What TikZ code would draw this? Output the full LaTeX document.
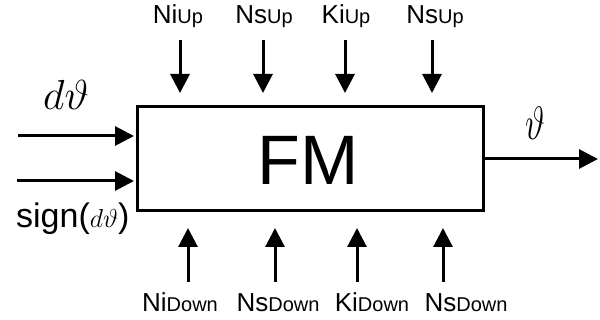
\RequirePackage{fix-cm}
\documentclass[tikz,border=0pt]{standalone}
\usepackage{graphicx}
\usepackage{fontspec}
\setmainfont{Liberation Sans}
\usetikzlibrary{arrows.meta}
\tikzset{
  arr/.style={line width=3pt, -{Triangle[length=19pt,width=19pt]}},
  box/.style={draw, line width=3pt, minimum width=346pt, minimum height=104pt, inner sep=0pt},
  lbl/.style={inner sep=0pt, anchor=base},
}
\newcommand{\lgtxt}[1]{{\fontsize{26}{26}\selectfont #1}}
\newcommand{\smtxt}[1]{{\fontsize{20}{20}\selectfont #1}}
\begin{document}
\begin{tikzpicture}[x=1pt,y=-1pt]
\useasboundingbox (0,0) rectangle (600,320);
\node[box] (fm) at (310,159) {};
\node[lbl] (fmt) at (308,185) {\fontsize{70}{70}\selectfont FM};
% top labels
\node[lbl] (niup) at (178,24) {\lgtxt{Ni}\smtxt{Up}};
\node[lbl] (nsup) at (264,24) {\lgtxt{Ns}\smtxt{Up}};
\node[lbl] (kiup) at (346,24) {\lgtxt{Ki}\smtxt{Up}};
\node[lbl] (nsup2) at (435,24) {\lgtxt{Ns}\smtxt{Up}};
% bottom labels
\node[lbl] (nidn) at (180,312) {\lgtxt{Ni}\smtxt{Down}};
\node[lbl] (nsdn) at (278,312) {\lgtxt{Ns}\smtxt{Down}};
\node[lbl] (kidn) at (372,312) {\lgtxt{Ki}\smtxt{Down}};
\node[lbl] (nsdn2) at (466,312) {\lgtxt{Ns}\smtxt{Down}};
% top arrows
\coordinate (t1s) at (180,40); \coordinate (t1e) at (180,93);
\coordinate (t2s) at (263,40); \coordinate (t2e) at (263,93);
\coordinate (t3s) at (345,40); \coordinate (t3e) at (345,93);
\coordinate (t4s) at (432,40); \coordinate (t4e) at (432,93);
\draw[arr] (t1s) -- (t1e);
\draw[arr] (t2s) -- (t2e);
\draw[arr] (t3s) -- (t3e);
\draw[arr] (t4s) -- (t4e);
% bottom arrows
\coordinate (b1s) at (188,282); \coordinate (b1e) at (188,228);
\coordinate (b2s) at (275,282); \coordinate (b2e) at (275,228);
\coordinate (b3s) at (357,282); \coordinate (b3e) at (357,228);
\coordinate (b4s) at (443,282); \coordinate (b4e) at (443,228);
\draw[arr] (b1s) -- (b1e);
\draw[arr] (b2s) -- (b2e);
\draw[arr] (b3s) -- (b3e);
\draw[arr] (b4s) -- (b4e);
% left inputs
\coordinate (l1) at (18,136);
\coordinate (l2) at (17,181);
\draw[arr, shorten >=1.5pt] (l1) -- (l1 -| fm.west);
\draw[arr, shorten >=1.5pt] (l2) -- (l2 -| fm.west);
\node[lbl] (dth) at (66,110) {\fontsize{42}{42}\selectfont $d\vartheta$};
\node[lbl, anchor=base west] (sgn) at (16,228) {\fontsize{34}{34}\selectfont sign(\fontsize{26}{26}\selectfont$d\vartheta$\fontsize{34}{34}\selectfont)};
% output
\coordinate (out) at (598,159);
\draw[arr] (fm.east) -- (out);
\node[lbl] (th) at (535,140) {\scalebox{1}[1.38]{\fontsize{34}{34}\selectfont $\vartheta$}};
\end{tikzpicture}
\end{document}
